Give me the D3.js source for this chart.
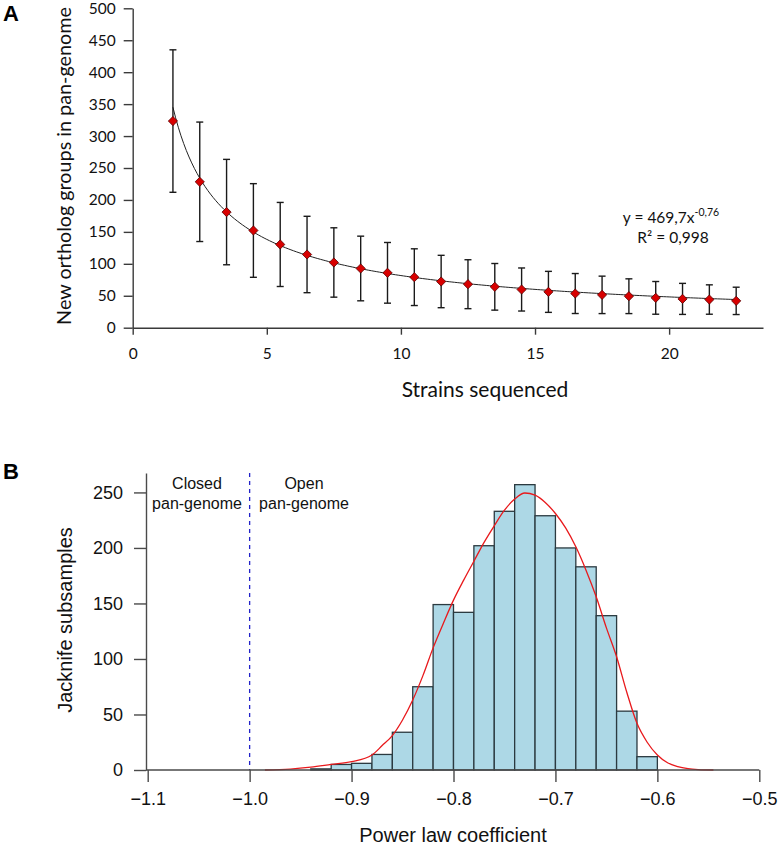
<!DOCTYPE html>
<html>
<head>
<meta charset="utf-8">
<script src="https://cdn.jsdelivr.net/npm/d3@7"></script>
<style>
  html, body { margin: 0; padding: 0; background: #fff; }
  svg { display: block; }
  .fa { font-family: Lato, "Open Sans", sans-serif; }
  .fb { font-family: "Liberation Sans", Arial, sans-serif; }
</style>
</head>
<body>
<svg id="chart" width="780" height="845"></svg>
<script>
// ---------- Panel A data ----------
const strainsX = [1.5, 2.5, 3.5, 4.5, 5.5, 6.5, 7.5, 8.5, 9.5, 10.5, 11.5, 12.5, 13.5, 14.5, 15.5, 16.5, 17.5, 18.5, 19.5, 20.5, 21.5, 22.5];
const newGroupsMean = [323.5, 228.4, 181, 152.2, 130.3, 114.6, 102.1, 92.7, 85.9, 79.1, 72.3, 68.1, 64, 59.8, 56.1, 53.5, 51.4, 49.3, 46.7, 45.1, 44.1, 42];
const newGroupsErr = [111.5, 93.5, 82.5, 73.3, 65.8, 59.8, 54.3, 50.6, 47.5, 44.4, 41, 38.3, 36.5, 33.7, 32.1, 31.3, 29.3, 27.2, 25.6, 24.3, 23, 21.4];
const ticksAx = [0, 5, 10, 15, 20];
const ticksAy = [0, 50, 100, 150, 200, 250, 300, 350, 400, 450, 500];
const fitCoef = 469.7, fitExp = -0.76; // trendline shown on the chart

// ---------- Panel B data ----------
const binStarts = [-0.94, -0.92, -0.90, -0.88, -0.86, -0.84, -0.82, -0.80, -0.78, -0.76, -0.74, -0.72, -0.70, -0.68, -0.66, -0.64, -0.62];
const binCounts = [1, 5, 6, 14, 34, 75, 149, 142, 202, 233, 257, 229, 200, 183, 139, 53, 12];
const binWidth = 0.02;
const densX = [-0.985, -0.96, -0.94, -0.92, -0.90, -0.88, -0.87, -0.86, -0.85, -0.84, -0.83, -0.82, -0.81, -0.80, -0.79, -0.78, -0.77, -0.76, -0.75, -0.74, -0.73, -0.72, -0.71, -0.70, -0.69, -0.68, -0.67, -0.66, -0.65, -0.64, -0.63, -0.62, -0.61, -0.60, -0.59, -0.58, -0.57, -0.56, -0.545];
const densY = [0, 0.8, 2.5, 5, 7.5, 13.5, 22, 31, 45, 63, 85, 110, 132, 153, 171, 188, 205, 220, 234, 244, 249.5, 247.5, 241, 231, 218, 201, 180, 156, 128, 102, 70, 42, 25, 13.5, 6.5, 3, 1.2, 0.4, 0];
const ticksBx = [-1.1, -1.0, -0.9, -0.8, -0.7, -0.6, -0.5];
const ticksBy = [0, 50, 100, 150, 200, 250];
const boundaryX = -1.0;

const svg = d3.select("#chart");

// ================= Panel A =================
const gA = svg.append("g").attr("class", "fa");
const xA = d3.scaleLinear().domain([0, 23.5]).range([132.7, 763]);
const yA = d3.scaleLinear().domain([0, 500]).range([327.7, 8.3]);
const axisColA = "#3a3a3a";

const axA_y = gA.append("g").attr("transform", `translate(${xA(0)},0)`)
  .call(d3.axisLeft(yA).tickValues(ticksAy).tickSize(9).tickSizeOuter(0).tickPadding(8));
const axA_x = gA.append("g").attr("transform", `translate(0,${yA(0)})`)
  .call(d3.axisBottom(xA).tickValues(ticksAx).tickSize(7).tickSizeOuter(0).tickPadding(13));
[axA_y, axA_x].forEach(a => {
  a.selectAll("path, line").attr("stroke", axisColA).attr("stroke-width", 1.4);
  a.selectAll("text").attr("fill", "#111").style("font-size", "15.5px").style("font-family", "Lato, sans-serif");
});

// trendline
const fitPts = d3.range(0, 211).map(i => {
  const x = strainsX[0] + i * (strainsX[strainsX.length - 1] - strainsX[0]) / 210;
  return [x, fitCoef * Math.pow(x, fitExp)];
});
gA.append("path").attr("d", d3.line().x(d => xA(d[0])).y(d => yA(d[1]))(fitPts))
  .attr("fill", "none").attr("stroke", "#222").attr("stroke-width", 1);

// error bars
const eb = gA.append("g").attr("stroke", "#1a1a1a").attr("stroke-width", 1.4);
strainsX.forEach((x, i) => {
  const hi = yA(newGroupsMean[i] + newGroupsErr[i]);
  const lo = yA(newGroupsMean[i] - newGroupsErr[i]);
  eb.append("line").attr("x1", xA(x)).attr("x2", xA(x)).attr("y1", hi).attr("y2", lo);
  eb.append("line").attr("x1", xA(x) - 3.5).attr("x2", xA(x) + 3.5).attr("y1", hi).attr("y2", hi);
  eb.append("line").attr("x1", xA(x) - 3.5).attr("x2", xA(x) + 3.5).attr("y1", lo).attr("y2", lo);
});

// diamonds
const r = 4.6;
gA.append("g").selectAll("path").data(strainsX).join("path")
  .attr("transform", (d, i) => `translate(${xA(d)},${yA(newGroupsMean[i])})`)
  .attr("d", `M0,${-r}L${r},0L0,${r}L${-r},0Z`)
  .attr("fill", "#d80000").attr("stroke", "#5a0000").attr("stroke-width", 0.8);

// annotation
const eq = gA.append("text").attr("x", 671).attr("y", 223).attr("text-anchor", "middle")
  .style("font-size", "15.5px").attr("fill", "#111");
eq.append("tspan").text("y = 469,7x");
eq.append("tspan").attr("dy", -7).style("font-size", "10.5px").text("-0,76");
gA.append("text").attr("x", 673).attr("y", 243).attr("text-anchor", "middle")
  .style("font-size", "15.5px").attr("fill", "#111").text("R² = 0,998");

// axis titles
gA.append("text").attr("x", 485).attr("y", 397).attr("text-anchor", "middle")
  .style("font-size", "21px").attr("fill", "#111").text("Strains sequenced");
const yTitleA = gA.append("text").attr("transform", "translate(71,166) rotate(-90)").attr("text-anchor", "middle")
  .style("font-size", "20px").attr("fill", "#111").text("New ortholog groups in pan-genome");
const lenA = yTitleA.node().getComputedTextLength();
if (lenA > 318) yTitleA.style("font-size", (20 * 318 / lenA).toFixed(2) + "px");

// panel letter
svg.append("text").attr("x", 3).attr("y", 21).attr("class", "fb")
  .style("font-size", "22px").style("font-weight", "bold").text("A");

// ================= Panel B =================
const gB = svg.append("g").attr("class", "fb");
const xB = d3.scaleLinear().domain([-1.1, -0.5]).range([147.7, 759.3]);
const yB = d3.scaleLinear().domain([0, 267.5]).range([770, 473]);
const axisColB = "#4a4a4a";

// bars
gB.append("g").selectAll("rect").data(binStarts).join("rect")
  .attr("x", d => xB(d))
  .attr("width", d => xB(d + binWidth) - xB(d))
  .attr("y", (d, i) => yB(binCounts[i]))
  .attr("height", (d, i) => yB(0) - yB(binCounts[i]))
  .attr("fill", "#add8e6").attr("stroke", "#2b3a40").attr("stroke-width", 1.3);

// boundary line
gB.append("line").attr("x1", xB(boundaryX)).attr("x2", xB(boundaryX))
  .attr("y1", yB(267.5)).attr("y2", yB(0))
  .attr("stroke", "#2222c8").attr("stroke-width", 1.3).attr("stroke-dasharray", "4,4");

// density curve
gB.append("path").attr("d", d3.line().curve(d3.curveMonotoneX).x(d => xB(d[0])).y(d => yB(d[1]))(densX.map((x, i) => [x, densY[i]])))
  .attr("fill", "none").attr("stroke", "#e8191c").attr("stroke-width", 1.3);

// axes
const axB_y = gB.append("g").attr("transform", `translate(146,0)`)
  .call(d3.axisLeft(yB).tickValues(ticksBy).tickSize(12).tickSizeOuter(0).tickPadding(11));
const axB_x = gB.append("g").attr("transform", `translate(0,${yB(0)})`)
  .call(d3.axisBottom(xB).tickValues(ticksBx).tickFormat(d3.format(".1f")).tickSize(12).tickSizeOuter(0).tickPadding(10));
axB_x.select("path.domain").attr("d", `M146,0H${xB(-0.5)}`);
[axB_y, axB_x].forEach(a => {
  a.selectAll("path, line").attr("stroke", axisColB).attr("stroke-width", 1.4);
  a.selectAll("text").attr("fill", "#111").style("font-size", "18px").style("font-family", "'Liberation Sans', Arial, sans-serif");
});

// region labels
const regionLbl = (x, lines) => lines.forEach((t, i) =>
  gB.append("text").attr("x", x).attr("y", 489 + i * 20).attr("text-anchor", "middle")
    .style("font-size", "16px").attr("fill", "#111").text(t));
regionLbl(197, ["Closed", "pan-genome"]);
regionLbl(304, ["Open", "pan-genome"]);

// axis titles
gB.append("text").attr("x", 453).attr("y", 842).attr("text-anchor", "middle")
  .style("font-size", "20px").attr("fill", "#111").text("Power law coefficient");
gB.append("text").attr("transform", "translate(72,620) rotate(-90)").attr("text-anchor", "middle")
  .style("font-size", "20px").attr("fill", "#111").text("Jacknife subsamples");

svg.append("text").attr("x", 3).attr("y", 479).attr("class", "fb")
  .style("font-size", "22px").style("font-weight", "bold").text("B");
</script>
</body>
</html>
